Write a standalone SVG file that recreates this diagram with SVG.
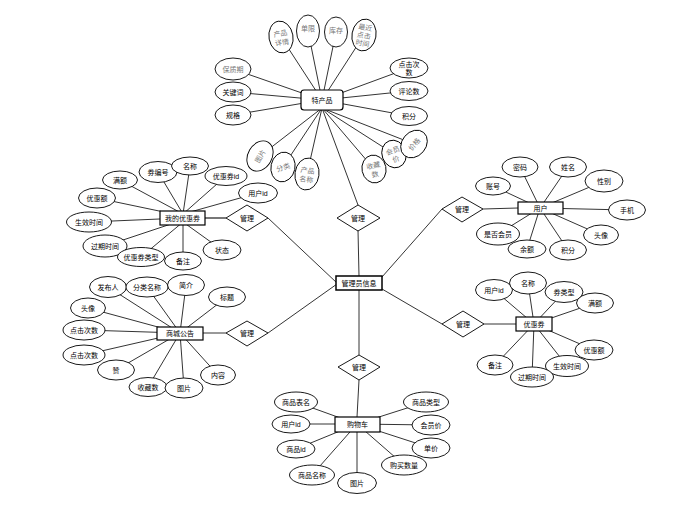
<svg xmlns="http://www.w3.org/2000/svg" width="677" height="509" viewBox="0 0 677 509">
<style>
.e{fill:#fff;stroke:#000;stroke-width:0.9}
.r{fill:#fff;stroke:#000;stroke-width:1.2}
.d{fill:#fff;stroke:#000;stroke-width:0.9}
.t{font-family:"Liberation Sans","Noto Sans CJK SC",sans-serif;font-size:7px;fill:#000;text-anchor:middle;dominant-baseline:central}
.g{font-family:"Noto Sans CJK SC",sans-serif;font-size:7px;fill:#777;text-anchor:middle;dominant-baseline:central}
.c line{stroke:#000;stroke-width:0.8}
</style>
<rect width="677" height="509" fill="#fff"/>
<g id="connectors" class="c">
<line x1="281" y1="37" x2="322" y2="100"/><line x1="308" y1="31" x2="322" y2="100"/>
<line x1="336" y1="32" x2="322" y2="100"/><line x1="364" y1="35" x2="322" y2="100"/>
<line x1="233" y1="69" x2="322" y2="100"/><line x1="233" y1="92" x2="322" y2="100"/>
<line x1="233" y1="115" x2="322" y2="100"/><line x1="409" y1="68" x2="322" y2="100"/>
<line x1="409" y1="91" x2="322" y2="100"/><line x1="409" y1="116" x2="322" y2="100"/>
<line x1="260" y1="156" x2="322" y2="108"/><line x1="283" y1="167" x2="322" y2="108"/>
<line x1="307" y1="174" x2="322" y2="108"/><line x1="374" y1="169" x2="322" y2="108"/>
<line x1="394" y1="154" x2="322" y2="108"/><line x1="414" y1="144" x2="322" y2="108"/>
<line x1="322" y1="108" x2="358" y2="205"/>
<line x1="358" y1="230" x2="359" y2="276"/>
<line x1="120" y1="180" x2="183" y2="214"/><line x1="158" y1="172" x2="183" y2="214"/>
<line x1="190" y1="166" x2="183" y2="214"/><line x1="226" y1="176" x2="183" y2="214"/>
<line x1="258" y1="193" x2="183" y2="214"/><line x1="97" y1="198" x2="183" y2="216"/>
<line x1="89" y1="222" x2="183" y2="218"/><line x1="105" y1="246" x2="183" y2="220"/>
<line x1="141" y1="257" x2="183" y2="222"/><line x1="183" y1="261" x2="183" y2="222"/>
<line x1="222" y1="250" x2="183" y2="222"/>
<line x1="205" y1="218" x2="226" y2="218" style="stroke:#555;stroke-width:1.6"/>
<line x1="268" y1="218" x2="337" y2="283"/>
<line x1="108" y1="287" x2="180" y2="333"/><line x1="147" y1="287" x2="180" y2="333"/>
<line x1="186" y1="285" x2="180" y2="333"/><line x1="227" y1="297" x2="180" y2="333"/>
<line x1="88" y1="308" x2="180" y2="333"/><line x1="84" y1="330" x2="180" y2="333"/>
<line x1="84" y1="355" x2="180" y2="333"/><line x1="116" y1="370" x2="180" y2="333"/>
<line x1="148" y1="387" x2="180" y2="333"/><line x1="184" y1="388" x2="180" y2="333"/>
<line x1="218" y1="375" x2="180" y2="333"/>
<line x1="203" y1="333" x2="226" y2="333"/>
<line x1="268" y1="333" x2="337" y2="284"/>
<line x1="520" y1="167" x2="540" y2="208"/><line x1="568" y1="167" x2="540" y2="208"/>
<line x1="493" y1="186" x2="540" y2="208"/><line x1="604" y1="181" x2="540" y2="208"/>
<line x1="627" y1="210" x2="540" y2="208"/><line x1="601" y1="235" x2="540" y2="208"/>
<line x1="498" y1="234" x2="540" y2="208"/><line x1="527" y1="249" x2="540" y2="208"/>
<line x1="568" y1="250" x2="540" y2="208"/>
<line x1="483" y1="209" x2="518" y2="208"/>
<line x1="442" y1="209" x2="382" y2="277"/>
<line x1="494" y1="290" x2="534" y2="324"/><line x1="528" y1="283" x2="534" y2="324"/>
<line x1="564" y1="292" x2="534" y2="324"/><line x1="595" y1="303" x2="534" y2="324"/>
<line x1="594" y1="350" x2="534" y2="324"/><line x1="567" y1="366" x2="534" y2="324"/>
<line x1="532" y1="377" x2="534" y2="324"/><line x1="495" y1="365" x2="534" y2="324"/>
<line x1="484" y1="324" x2="516" y2="324"/>
<line x1="442" y1="324" x2="382" y2="289"/>
<line x1="359" y1="290" x2="359" y2="355"/>
<line x1="359" y1="380" x2="357" y2="417"/>
<line x1="296" y1="402" x2="357" y2="424"/><line x1="291" y1="424" x2="357" y2="424"/>
<line x1="296" y1="449" x2="357" y2="424"/><line x1="312" y1="475" x2="357" y2="424"/>
<line x1="357" y1="483" x2="357" y2="424"/><line x1="404" y1="465" x2="357" y2="424"/>
<line x1="431" y1="448" x2="357" y2="424"/><line x1="431" y1="425" x2="357" y2="424"/>
<line x1="426" y1="402" x2="357" y2="424"/>
</g>

<g id="product">
<rect class="r" x="301" y="90" width="42" height="20" rx="3"/>
<text class="t" x="322" y="100">特产品</text>
</g>
<g id="p-xq" transform="translate(281,37) rotate(-10)"><ellipse class="e" rx="12" ry="16"/><text class="g" y="-4">产品</text><text class="g" y="5">详情</text></g>
<g id="p-dx" transform="translate(308,31)"><ellipse class="e" rx="11.5" ry="16"/><text class="g" y="-3">单限</text></g>
<g id="p-kc" transform="translate(336,32)"><ellipse class="e" rx="11.5" ry="15"/><text class="g" y="-2">库存</text></g>
<g id="p-zj" transform="translate(364,35) rotate(10)"><ellipse class="e" rx="12" ry="16"/><text class="g" y="-8">最近</text><text class="g" y="0">点击</text><text class="g" y="8">时间</text></g>
<g id="p-bzq"><ellipse class="e" cx="233" cy="69" rx="18" ry="11"/><text class="g" x="233" y="69">保质期</text></g>
<g id="p-gjc"><ellipse class="e" cx="233" cy="92" rx="18" ry="10"/><text class="t" x="233" y="92">关键词</text></g>
<g id="p-gg"><ellipse class="e" cx="233" cy="115" rx="18" ry="10"/><text class="t" x="233" y="115">规格</text></g>
<g id="p-djcs"><ellipse class="e" cx="409" cy="68" rx="19" ry="10"/><text class="t" x="409" y="64">点击次</text><text class="t" x="409" y="72">数</text></g>
<g id="p-pls"><ellipse class="e" cx="409" cy="91" rx="19" ry="9.5"/><text class="t" x="409" y="91">评论数</text></g>
<g id="p-jf"><ellipse class="e" cx="409" cy="116" rx="18.5" ry="9.5"/><text class="t" x="409" y="116">积分</text></g>
<g id="p-tp" transform="translate(260,156) rotate(-60)"><ellipse class="e" rx="16" ry="12"/><text class="g">图片</text></g>
<g id="p-fl" transform="translate(283,167) rotate(12)"><ellipse class="e" rx="12" ry="15"/><text class="g" transform="rotate(-30)">分类</text></g>
<g id="p-cpmc" transform="translate(307,174) rotate(8)"><ellipse class="e" rx="12" ry="16"/><text class="g" y="-4">产品</text><text class="g" y="5">名称</text></g>
<g id="p-scs" transform="translate(374,169) rotate(-12)"><ellipse class="e" rx="12" ry="14"/><text class="g" y="-4">收藏</text><text class="g" y="5">数</text></g>
<g id="p-hyj" transform="translate(394,154) rotate(-20)"><ellipse class="e" rx="12" ry="14"/><text class="g" y="-4">会员</text><text class="g" y="5">价</text></g>
<g id="p-jg" transform="translate(414,144) rotate(-50)"><ellipse class="e" rx="15" ry="12"/><text class="g">价格</text></g>

<g id="rel-product"><polygon class="d" points="358,205 380,218 358,231 337,218"/><text class="t" x="358" y="218">管理</text></g>
<g id="rel-mycoupon"><polygon class="d" points="247,205 268,218 247,231 226,218"/><text class="t" x="247" y="218">管理</text></g>
<g id="rel-notice"><polygon class="d" points="247,321 268,333 247,346 226,333"/><text class="t" x="247" y="333">管理</text></g>
<g id="rel-user"><polygon class="d" points="462,197 483,209 462,222 442,209"/><text class="t" x="462" y="209">管理</text></g>
<g id="rel-coupon"><polygon class="d" points="463,311 484,324 463,337 442,324"/><text class="t" x="463" y="324">管理</text></g>
<g id="rel-cart"><polygon class="d" points="359,355 380,367 359,380 338,367"/><text class="t" x="359" y="367">管理</text></g>

<g id="admin"><rect class="r" x="336" y="276" width="46" height="14" style="stroke-width:1.5"/><text class="t" x="359" y="283">管理员信息</text></g>

<g id="mycoupon"><rect class="r" x="160" y="211" width="45" height="14"/><text class="t" x="182.5" y="218">我的优惠券</text></g>
<g id="mc-me"><ellipse class="e" cx="120" cy="180" rx="17.5" ry="9"/><text class="t" x="120" y="180">满额</text></g>
<g id="mc-qbh"><ellipse class="e" cx="158" cy="172" rx="19" ry="10.5"/><text class="t" x="158" y="172">券编号</text></g>
<g id="mc-mc"><ellipse class="e" cx="190" cy="166" rx="18.5" ry="9"/><text class="t" x="190" y="166">名称</text></g>
<g id="mc-yhqid"><ellipse class="e" cx="226" cy="176" rx="21" ry="9.5"/><text class="t" x="226" y="176">优惠券id</text></g>
<g id="mc-yhid"><ellipse class="e" cx="258" cy="193" rx="19.5" ry="10"/><text class="t" x="258" y="193">用户id</text></g>
<g id="mc-yhe"><ellipse class="e" cx="97" cy="198" rx="18.5" ry="10"/><text class="t" x="97" y="198">优惠额</text></g>
<g id="mc-sxsj"><ellipse class="e" cx="89" cy="222" rx="22.5" ry="10"/><text class="t" x="89" y="222">生效时间</text></g>
<g id="mc-gqsj"><ellipse class="e" cx="105" cy="246" rx="22" ry="11"/><text class="t" x="105" y="246">过期时间</text></g>
<g id="mc-yhqlx"><ellipse class="e" cx="141" cy="257" rx="23.5" ry="9.5"/><text class="t" x="141" y="257">优惠券类型</text></g>
<g id="mc-bz"><ellipse class="e" cx="183" cy="261" rx="18.5" ry="9"/><text class="t" x="183" y="261">备注</text></g>
<g id="mc-zt"><ellipse class="e" cx="222" cy="250" rx="19" ry="10"/><text class="t" x="222" y="250">状态</text></g>

<g id="notice"><rect class="r" x="157" y="327" width="46" height="13"/><text class="t" x="180" y="333.5">商城公告</text></g>
<g id="n-fbr"><ellipse class="e" cx="108" cy="287" rx="18.5" ry="10.5"/><text class="t" x="108" y="287">发布人</text></g>
<g id="n-flmc"><ellipse class="e" cx="147" cy="287" rx="21" ry="10"/><text class="t" x="147" y="287">分类名称</text></g>
<g id="n-jj"><ellipse class="e" cx="186" cy="285" rx="18.5" ry="10.5"/><text class="t" x="186" y="285">简介</text></g>
<g id="n-bt"><ellipse class="e" cx="227" cy="297" rx="18.5" ry="10"/><text class="t" x="227" y="297">标题</text></g>
<g id="n-tx"><ellipse class="e" cx="88" cy="308" rx="17.5" ry="10"/><text class="t" x="88" y="308">头像</text></g>
<g id="n-djcs1"><ellipse class="e" cx="84" cy="330" rx="21" ry="10"/><text class="t" x="84" y="330">点击次数</text></g>
<g id="n-djcs2"><ellipse class="e" cx="84" cy="355" rx="21" ry="10"/><text class="t" x="84" y="355">点击次数</text></g>
<g id="n-z"><ellipse class="e" cx="116" cy="370" rx="18.5" ry="10"/><text class="t" x="116" y="370">赞</text></g>
<g id="n-scs"><ellipse class="e" cx="148" cy="387" rx="19" ry="9.5"/><text class="t" x="148" y="387">收藏数</text></g>
<g id="n-tp"><ellipse class="e" cx="184" cy="388" rx="19" ry="10"/><text class="t" x="184" y="388">图片</text></g>
<g id="n-nr"><ellipse class="e" cx="218" cy="375" rx="17.5" ry="10"/><text class="t" x="218" y="375">内容</text></g>

<g id="user"><rect class="r" x="518" y="202" width="45" height="12"/><text class="t" x="540.5" y="208">用户</text></g>
<g id="u-mm"><ellipse class="e" cx="520" cy="167" rx="18" ry="10"/><text class="t" x="520" y="167">密码</text></g>
<g id="u-xm"><ellipse class="e" cx="568" cy="167" rx="18.5" ry="10"/><text class="t" x="568" y="167">姓名</text></g>
<g id="u-zh"><ellipse class="e" cx="493" cy="186" rx="17.5" ry="9"/><text class="t" x="493" y="186">账号</text></g>
<g id="u-xb"><ellipse class="e" cx="604" cy="181" rx="19" ry="11"/><text class="t" x="604" y="181">性别</text></g>
<g id="u-sj"><ellipse class="e" cx="627" cy="210" rx="18.5" ry="10"/><text class="t" x="627" y="210">手机</text></g>
<g id="u-tx"><ellipse class="e" cx="601" cy="235" rx="17.5" ry="10"/><text class="t" x="601" y="235">头像</text></g>
<g id="u-sfhy"><ellipse class="e" cx="498" cy="234" rx="21.5" ry="11"/><text class="t" x="498" y="234">是否会员</text></g>
<g id="u-ye"><ellipse class="e" cx="527" cy="249" rx="19" ry="9"/><text class="t" x="527" y="249">余额</text></g>
<g id="u-jf"><ellipse class="e" cx="568" cy="250" rx="18.5" ry="10"/><text class="t" x="568" y="250">积分</text></g>

<g id="coupon"><rect class="r" x="516" y="317" width="36" height="14"/><text class="t" x="534" y="324">优惠券</text></g>
<g id="c-yhid"><ellipse class="e" cx="494" cy="290" rx="18.5" ry="10.5"/><text class="t" x="494" y="290">用户id</text></g>
<g id="c-mc"><ellipse class="e" cx="528" cy="283" rx="18.5" ry="11"/><text class="t" x="528" y="283">名称</text></g>
<g id="c-qlx"><ellipse class="e" cx="564" cy="292" rx="19" ry="10.5"/><text class="t" x="564" y="292">券类型</text></g>
<g id="c-me"><ellipse class="e" cx="595" cy="303" rx="18.5" ry="10"/><text class="t" x="595" y="303">满额</text></g>
<g id="c-yhe"><ellipse class="e" cx="594" cy="350" rx="19" ry="10"/><text class="t" x="594" y="350">优惠额</text></g>
<g id="c-sxsj"><ellipse class="e" cx="567" cy="366" rx="21.5" ry="10.5"/><text class="t" x="567" y="366">生效时间</text></g>
<g id="c-gqsj"><ellipse class="e" cx="532" cy="377" rx="21.5" ry="10"/><text class="t" x="532" y="377">过期时间</text></g>
<g id="c-bz"><ellipse class="e" cx="495" cy="365" rx="18" ry="10"/><text class="t" x="495" y="365">备注</text></g>

<g id="cart"><rect class="r" x="335" y="417" width="45" height="15"/><text class="t" x="357.5" y="424.5">购物车</text></g>
<g id="k-spbm"><ellipse class="e" cx="296" cy="402" rx="21.5" ry="10"/><text class="t" x="296" y="402">商品表名</text></g>
<g id="k-yhid"><ellipse class="e" cx="291" cy="424" rx="19" ry="9"/><text class="t" x="291" y="424">用户id</text></g>
<g id="k-spid"><ellipse class="e" cx="296" cy="449" rx="19" ry="9"/><text class="t" x="296" y="449">商品id</text></g>
<g id="k-spmc"><ellipse class="e" cx="312" cy="475" rx="22.5" ry="10"/><text class="t" x="312" y="475">商品名称</text></g>
<g id="k-tp"><ellipse class="e" cx="357" cy="483" rx="19.5" ry="10.5"/><text class="t" x="357" y="483">图片</text></g>
<g id="k-gmsl"><ellipse class="e" cx="404" cy="465" rx="22.5" ry="10"/><text class="t" x="404" y="465">购买数量</text></g>
<g id="k-dj"><ellipse class="e" cx="431" cy="448" rx="19" ry="10"/><text class="t" x="431" y="448">单价</text></g>
<g id="k-hyj"><ellipse class="e" cx="431" cy="425" rx="19" ry="10"/><text class="t" x="431" y="425">会员价</text></g>
<g id="k-splx"><ellipse class="e" cx="426" cy="402" rx="22.5" ry="10"/><text class="t" x="426" y="402">商品类型</text></g>
</svg>
